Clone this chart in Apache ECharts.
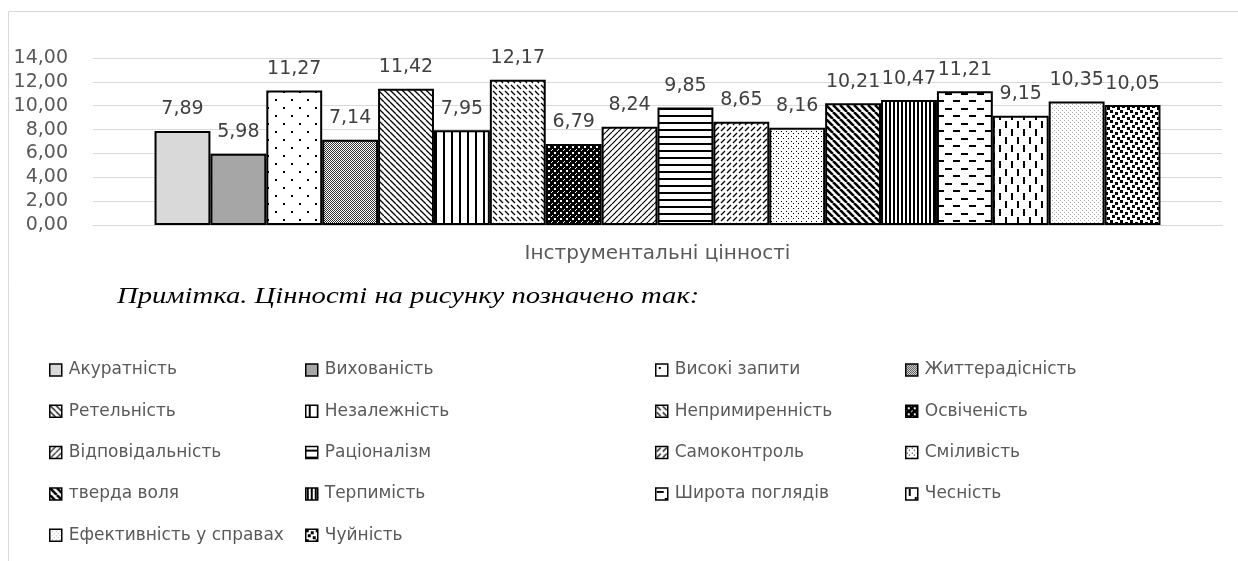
<!DOCTYPE html>
<html>
<head>
<meta charset="utf-8">
<script src="https://cdn.jsdelivr.net/npm/echarts@6/dist/echarts.min.js"></script>
<style>
html,body{margin:0;padding:0;background:#fff;}
#chart{width:1238px;height:561px;}
</style>
</head>
<body>
<div id="chart"></div>
<script>
// ---- data ----
const categories = ['Інструментальні цінності'];
const seriesNames = [
  'Акуратність','Вихованість','Високі запити','Життерадісність',
  'Ретельність','Незалежність','Непримиренність','Освіченість',
  'Відповідальність','Раціоналізм','Самоконтроль','Сміливість',
  'тверда воля','Терпимість','Широта поглядів','Чесність',
  'Ефективність у справах','Чуйність'
];
const seriesValues = [7.89,5.98,11.27,7.14,11.42,7.95,12.17,6.79,8.24,9.85,8.65,8.16,10.21,10.47,11.21,9.15,10.35,10.05];
const yTicks = [0,2,4,6,8,10,12,14];
const noteText = 'Примітка. Цінності на рисунку позначено так:';

// ---- patterns ----
function tile(w,h,draw){
  const c=document.createElement('canvas');c.width=w;c.height=h;
  const g=c.getContext('2d');g.fillStyle='#fff';g.fillRect(0,0,w,h);
  g.fillStyle='#000';g.strokeStyle='#000';draw(g,w,h);
  return {image:c,repeat:'repeat'};
}
function diag(g,w,h,down,lw){
  g.lineWidth=lw;g.beginPath();
  for(let k=-1;k<=1;k++){
    if(down){g.moveTo(k*w,0);g.lineTo(k*w+w,h);}
    else{g.moveTo(k*w,h);g.lineTo(k*w+w,0);}
  }
  g.stroke();
}
const patterns = [
  '#d9d9d9',
  '#a6a6a6',
  tile(16,16,g=>{g.fillRect(3,3,2,2);g.fillRect(11,11,2,2);}),
  tile(2,2,g=>{g.fillStyle='#333';g.fillRect(0,0,1,1);g.fillRect(1,1,1,1);}),
  tile(6,6,(g,w,h)=>diag(g,w,h,true,1.3)),
  tile(8,8,g=>{g.fillRect(3,0,2,8);}),
  tile(12,12,g=>{g.lineWidth=1.3;g.beginPath();g.moveTo(1,1);g.lineTo(5,5);g.moveTo(7,7);g.lineTo(11,11);g.moveTo(7,1);g.lineTo(11,5);g.moveTo(1,7);g.lineTo(5,11);g.stroke();}),
  tile(6,6,g=>{g.fillRect(0,0,6,6);g.fillStyle='#fff';g.fillRect(2,2,2,2);g.fillRect(0,5,1,1);g.fillRect(5,0,1,1);}),
  tile(6,6,(g,w,h)=>diag(g,w,h,false,1.2)),
  tile(8,7,g=>{g.fillRect(0,3,8,2);}),
  tile(12,12,g=>{g.lineWidth=1.3;g.beginPath();g.moveTo(1,5);g.lineTo(5,1);g.moveTo(7,11);g.lineTo(11,7);g.moveTo(7,5);g.lineTo(11,1);g.moveTo(1,11);g.lineTo(5,7);g.stroke();}),
  tile(5,5,g=>{g.fillRect(1,1,1,1);g.fillRect(3,3,1,1);}),
  tile(7,7,(g,w,h)=>diag(g,w,h,true,2.6)),
  tile(4,4,g=>{g.fillRect(1,0,2,4);}),
  tile(16,15,g=>{g.fillRect(1,3,7,2);g.fillRect(9,10,7,2);}),
  tile(12,16,g=>{g.fillRect(3,1,2,7);g.fillRect(9,9,2,7);}),
  tile(4,4,g=>{g.fillStyle='#aaa';g.fillRect(0,0,1,1);g.fillRect(2,2,1,1);}),
  tile(10,10,g=>{g.fillRect(0,0,3,3);g.fillRect(5,2,3,3);g.fillRect(2,5,3,3);g.fillRect(7,7,3,3);})
];

const fontMain = '"DejaVu Sans"';
const fmt = v => v.toFixed(2).replace('.',',');
const series = seriesNames.map((n,i)=>({
  name: n,
  type:'bar',
  data:[seriesValues[i]],
  barGap:'0%',
  barCategoryGap:'10.9%',
  itemStyle:{color:patterns[i],borderColor:'#000',borderWidth:2},
  label:{show:true,position:'top',distance:12,color:'#404040',fontSize:19,fontFamily:fontMain,
    formatter:p=>fmt(p.value)},
  emphasis:{disabled:true},
  animation:false
}));

const cols = [
  {left:49, items:[0,4,8,12,16]},
  {left:305,items:[1,5,9,13,17]},
  {left:655,items:[2,6,10,14]},
  {left:905,items:[3,7,11,15]}
];
const legends = cols.map(c=>({
  orient:'vertical',left:c.left,top:360,padding:0,
  itemWidth:12,itemHeight:12,itemGap:21.3,selectedMode:false,
  icon:'rect',
  itemStyle:{borderColor:'#000',borderWidth:1.5},
  textStyle:{color:'#595959',fontSize:17,fontFamily:fontMain,lineHeight:20,padding:[0,0,0,2]},
  data:c.items.map(i=>seriesNames[i])
}));

const chart = echarts.init(document.getElementById('chart'),null,{renderer:'canvas'});
chart.setOption({
  animation:false,
  backgroundColor:'#fff',
  grid:{left:93,right:16,top:58,bottom:336,containLabel:false},
  xAxis:{type:'category',data:categories,
    axisLine:{lineStyle:{color:'#d9d9d9',width:1}},axisTick:{show:false},
    axisLabel:{color:'#595959',fontSize:20,fontFamily:fontMain,margin:19}},
  yAxis:{type:'value',min:yTicks[0],max:yTicks[yTicks.length-1],interval:2,
    axisLine:{show:false},axisTick:{show:false},
    splitLine:{lineStyle:{color:'#d9d9d9',width:1}},
    axisLabel:{color:'#595959',fontSize:19,fontFamily:fontMain,margin:25,
      formatter:v=>fmt(v)}},
  legend:legends,
  graphic:[
    {type:'rect',shape:{x:8.5,y:11.5,width:1300,height:700},style:{fill:null,stroke:'#d9d9d9',lineWidth:1},silent:true,z:-1},
    {type:'text',x:117,y:285,scaleX:1.245,style:{text:noteText,font:'italic 23px "Liberation Serif"',fill:'#000'}}
  ],
  series:series
});
</script>
</body>
</html>
